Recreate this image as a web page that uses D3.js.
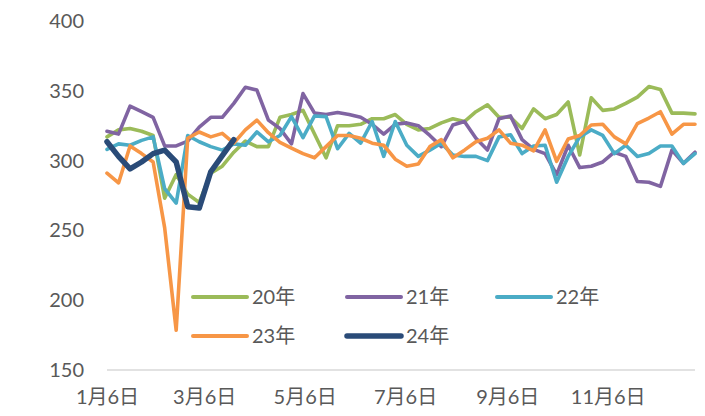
<!DOCTYPE html>
<html>
<head>
<meta charset="utf-8">
<script src="https://cdn.jsdelivr.net/npm/d3@7"></script>
<style>
  html, body { margin: 0; padding: 0; background: #ffffff; }
  svg { display: block; }
  text { font-family: Lato, "Noto Sans CJK SC", sans-serif; fill: #595959; }
</style>
</head>
<body>
<svg id="chart" width="705" height="416"></svg>
<script>
// ---- data ----
const categories = [
  "2023-01-06","2023-01-13","2023-01-20","2023-01-27",
  "2023-02-03","2023-02-10","2023-02-17","2023-02-24",
  "2023-03-03","2023-03-10","2023-03-17","2023-03-24","2023-03-31",
  "2023-04-07","2023-04-14","2023-04-21","2023-04-28",
  "2023-05-05","2023-05-12","2023-05-19","2023-05-26",
  "2023-06-02","2023-06-09","2023-06-16","2023-06-23","2023-06-30",
  "2023-07-07","2023-07-14","2023-07-21","2023-07-28",
  "2023-08-04","2023-08-11","2023-08-18","2023-08-25",
  "2023-09-01","2023-09-08","2023-09-15","2023-09-22","2023-09-29",
  "2023-10-06","2023-10-13","2023-10-20","2023-10-27",
  "2023-11-03","2023-11-10","2023-11-17","2023-11-24",
  "2023-12-01","2023-12-08","2023-12-15","2023-12-22","2023-12-29"
];
const seriesNames = ["20年", "21年", "22年", "23年", "24年"];
const y20 = [317,322,323,321,318,273,290,276,270,291,296,306,314,310,310,331,333,336,319,302,325,325,326,330,330,333,326,322,323,327,330,328,335,340,331,331,323,337,330,333,342,304,345,336,337,341,345.5,353,351,334,334,333.5];
const y21 = [321,319,339,335,331,310.5,310.5,314,324,331,331,341,352.5,350.5,329,323,312,348,334,333,334.5,333,331,326,319,326,327,325,318,310,325.5,328,316,307.6,330,332,315,308,305,290,311,295,296,299,306,303,285,284.5,281.5,307.5,298,306];
const y22 = [308,312,311,314.5,317,280,269.5,318,313.5,310,307.5,312,311,320.5,313.5,318,331.5,316.5,332,331.5,308.5,319.5,312.5,328,303,328,311,303,307.5,312.5,304,303,303,300,317,318.5,305,310.5,311,284.5,303,317,322,318,305,311,303,305,310.5,310.5,298,305];
const y23 = [291,284,310.5,305,299,252,178.5,316,320.5,317,319.5,312.5,322,329,320,313,309,305,302,310,318,318,316,312.5,311,301,296,297.5,310,315,302,307.5,313.5,316,322,312.5,311,307,322,299.5,315.5,318,325.5,326,317,312,326.5,330.5,335,319,326,326];
const y24 = [313.5,303,294,299,305,307.5,299,267,266,292,303.5,315];
const xTickDates = ["2023-01-06","2023-03-06","2023-05-06","2023-07-06","2023-09-06","2023-11-06"];
const xTickLabels = ["1月6日","3月6日","5月6日","7月6日","9月6日","11月6日"];
const yTicks = [150, 200, 250, 300, 350, 400];

// ---- styles ----
const colors = ["#9BBB59", "#8064A2", "#4BACC6", "#F79646", "#2A4B78"];
const widths = [3.6, 3.6, 3.6, 3.6, 5.5];

const parse = d3.timeParse("%Y-%m-%d");
const dates = categories.map(parse);

const svg = d3.select("#chart");
const x = d3.scaleTime().domain([dates[0], dates[dates.length - 1]]).range([107, 695]);
const y = d3.scaleLinear().domain([150, 400]).range([370, 21]);

// x axis line
svg.append("line")
  .attr("x1", x.range()[0]).attr("x2", x.range()[1])
  .attr("y1", y(150)).attr("y2", y(150))
  .attr("stroke", "#D9D9D9").attr("stroke-width", 1.3);

// y axis labels
const yAxis = d3.axisLeft(y).tickValues(yTicks).tickSize(0).tickPadding(23);
const gy = svg.append("g").attr("transform", `translate(107,0)`).call(yAxis);
gy.select(".domain").remove();
gy.selectAll("text").style("font-size", "20px").attr("fill", "#595959")
  .style("font-family", "Lato, sans-serif");

// x axis labels
const xAxis = d3.axisBottom(x).tickValues(xTickDates.map(parse))
  .tickFormat((d, i) => xTickLabels[i]).tickSize(0).tickPadding(20);
const gx = svg.append("g").attr("transform", `translate(0,${y(150)})`).call(xAxis);
gx.select(".domain").remove();
gx.selectAll("text").style("font-size", "20px").attr("fill", "#595959")
  .style("font-family", "Lato, 'Noto Sans CJK SC', sans-serif");

// lines
const allSeries = [y20, y21, y22, y23, y24];
const line = d3.line().x((d, i) => x(dates[i])).y(d => y(d));
allSeries.forEach((vals, k) => {
  svg.append("path")
    .datum(vals)
    .attr("d", line)
    .attr("fill", "none")
    .attr("stroke", colors[k])
    .attr("stroke-width", widths[k])
    .attr("stroke-linejoin", "round")
    .attr("stroke-linecap", "round");
});

// legend
const legendPos = [[193, 297], [347, 297], [497, 297], [193, 336], [347, 336]];
seriesNames.forEach((name, k) => {
  const [lx, ly] = legendPos[k];
  const g = svg.append("g");
  g.append("line").attr("x1", lx).attr("x2", lx + 54).attr("y1", ly).attr("y2", ly)
    .attr("stroke", colors[k]).attr("stroke-width", k === 4 ? 5.5 : 4)
    .attr("stroke-linecap", "round");
  g.append("text").attr("x", lx + 59).attr("y", ly + 7)
    .style("font-size", "20px").text(name);
});
</script>
</body>
</html>
